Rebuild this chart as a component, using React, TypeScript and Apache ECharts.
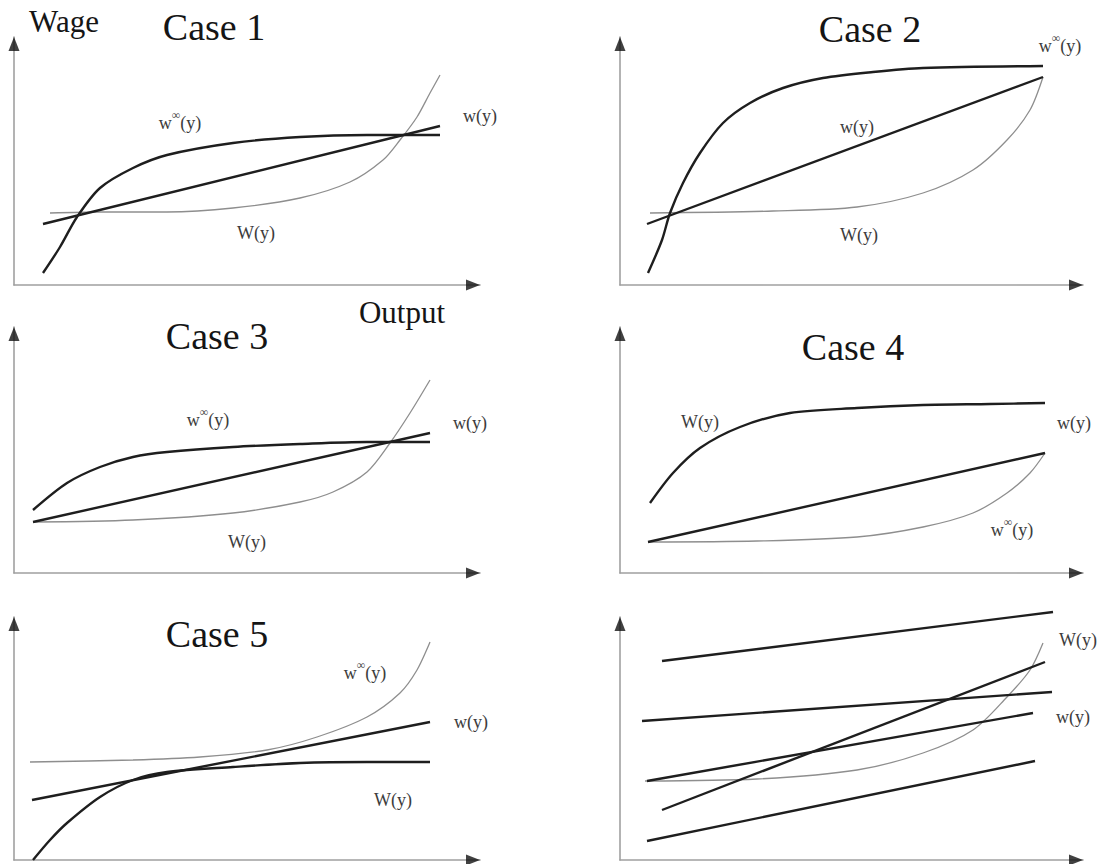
import React, { useEffect, useRef } from "react";
import * as echarts from "echarts";

// ---- Data (output units along each panel's x axis, wage units up its y axis) ----
// Case 1
const case1W = [[36, 72], [86, 73], [153, 73], [219, 77], [286, 87], [336, 103], [369, 125], [386, 145], [403, 168], [416, 192], [426, 210]];
const case1WInf = [[29, 12], [46, 38], [63, 68], [86, 97], [119, 117], [153, 130], [219, 142], [286, 148], [353, 150], [426, 150]];
const case1w = [[29, 61], [426, 159]];
// Case 2
const case2W = [[30, 72], [153, 74], [237, 78], [303, 92], [353, 115], [387, 145], [410, 175], [423, 208]];
const case2WInf = [[28, 12], [42, 45], [50, 72], [63, 102], [80, 132], [103, 162], [130, 182], [163, 197], [203, 207], [253, 213], [303, 217], [423, 219]];
const case2w = [[27, 61], [423, 208]];
// Case 3
const case3W = [[19, 51], [119, 53], [219, 60], [286, 71], [319, 81], [353, 101], [376, 130], [396, 160], [416, 193]];
const case3WInf = [[19, 63], [53, 90], [86, 106], [119, 116], [153, 121], [219, 126], [286, 129], [353, 131], [416, 131]];
const case3w = [[19, 51], [416, 140]];
// Case 4
const case4W = [[30, 70], [53, 100], [80, 125], [120, 146], [170, 160], [237, 165], [303, 168], [370, 169], [425, 170]];
const case4WInf = [[28, 31], [137, 32], [237, 36], [303, 46], [353, 60], [387, 80], [410, 100], [425, 120]];
const case4w = [[28, 31], [425, 120]];
// Case 5
const case5W = [[19, 0], [36, 20], [53, 37], [86, 63], [119, 80], [153, 88], [219, 93], [286, 97], [353, 98], [416, 98]];
const case5WInf = [[16, 98], [119, 100], [186, 103], [253, 110], [303, 123], [353, 143], [386, 167], [403, 190], [416, 218]];
const case5w = [[18, 60], [416, 138]];
// Case 6 (unlabelled panel)
const case6W = [[25, 79], [137, 81], [237, 90], [303, 107], [353, 130], [387, 163], [410, 190], [423, 217]];
const case6LineA = [[42, 199], [433, 248]];
const case6LineB = [[42, 50], [425, 198]];
const case6LineC = [[22, 139], [432, 168]];
const case6w = [[27, 79], [413, 147]];
const case6LineE = [[27, 19], [415, 99]];

// axis extents of each panel (output, wage)
const axisExtents = [[466, 248], [463, 248], [466, 246], [463, 246], [466, 243], [463, 243]];

const panelBoxes = [
  { left: 14, top: 37 },
  { left: 620, top: 37 },
  { left: 14, top: 327 },
  { left: 620, top: 327 },
  { left: 14, top: 617 },
  { left: 620, top: 617 },
];

const SERIF = "Liberation Serif, Times New Roman, serif";
const DARK = "#1e1e1e";
const GREY = "#8e8e8e";
const LABEL = "#3c3c3c";

function thick(name: string, panel: number, data: number[][], smooth: boolean) {
  return {
    name,
    type: "line",
    xAxisIndex: panel,
    yAxisIndex: panel,
    data,
    smooth: smooth ? 0.3 : false,
    showSymbol: false,
    clip: false,
    silent: true,
    lineStyle: { color: DARK, width: 2.4 },
  };
}

function thin(name: string, panel: number, data: number[][]) {
  return {
    name,
    type: "line",
    xAxisIndex: panel,
    yAxisIndex: panel,
    data,
    smooth: 0.3,
    showSymbol: false,
    clip: false,
    silent: true,
    lineStyle: { color: GREY, width: 1.3 },
  };
}

function arrows(panel: number) {
  const [xm, ym] = axisExtents[panel];
  return {
    type: "scatter",
    xAxisIndex: panel,
    yAxisIndex: panel,
    symbol: "triangle",
    symbolSize: [11, 14],
    clip: false,
    silent: true,
    itemStyle: { color: "#111" },
    data: [
      { value: [xm - 7, 0], symbolRotate: -90 },
      { value: [0, ym - 7], symbolRotate: 0 },
    ],
  };
}

function txt(text: string, x: number, y: number, size: number, color = "#2a2a2a") {
  return {
    type: "text",
    x,
    y,
    silent: true,
    style: {
      text,
      fill: color,
      fontSize: size,
      fontFamily: SERIF,
      textAlign: "center",
      align: "center",
      textVerticalAlign: "middle",
      verticalAlign: "middle",
    },
  };
}

function supLabel(x: number, y: number) {
  return {
    type: "text",
    x,
    y,
    silent: true,
    style: {
      text: "w{s|∞}(y)",
      fill: LABEL,
      fontSize: 18,
      fontFamily: SERIF,
      textAlign: "center",
      align: "center",
      textVerticalAlign: "middle",
      verticalAlign: "middle",
      lineHeight: 28,
      rich: {
        s: { fontSize: 12, fontFamily: SERIF, fill: LABEL, verticalAlign: "top", lineHeight: 12 },
      },
    },
  };
}

export default function App() {
  const ref = useRef<HTMLDivElement>(null);

  useEffect(() => {
    if (!ref.current) return;
    const chart = echarts.init(ref.current, undefined, { renderer: "svg" });

    const grid = panelBoxes.map((b, i) => ({
      left: b.left,
      top: b.top,
      width: axisExtents[i][0],
      height: axisExtents[i][1],
    }));

    const axisCommon = {
      type: "value",
      min: 0,
      axisLine: { show: true, lineStyle: { color: "#a0a0a0", width: 1.6 } },
      axisTick: { show: false },
      axisLabel: { show: false },
      splitLine: { show: false },
    };

    const xAxis = axisExtents.map((e, i) => ({ ...axisCommon, gridIndex: i, max: e[0] }));
    const yAxis = axisExtents.map((e, i) => ({ ...axisCommon, gridIndex: i, max: e[1] }));

    const series: any[] = [
      thin("W(y) case 1", 0, case1W),
      thick("w∞(y) case 1", 0, case1WInf, true),
      thick("w(y) case 1", 0, case1w, false),
      thin("W(y) case 2", 1, case2W),
      thick("w∞(y) case 2", 1, case2WInf, true),
      thick("w(y) case 2", 1, case2w, false),
      thin("W(y) case 3", 2, case3W),
      thick("w∞(y) case 3", 2, case3WInf, true),
      thick("w(y) case 3", 2, case3w, false),
      thick("W(y) case 4", 3, case4W, true),
      thin("w∞(y) case 4", 3, case4WInf),
      thick("w(y) case 4", 3, case4w, false),
      thick("W(y) case 5", 4, case5W, true),
      thin("w∞(y) case 5", 4, case5WInf),
      thick("w(y) case 5", 4, case5w, false),
      thin("W(y) case 6", 5, case6W),
      thick("line A case 6", 5, case6LineA, false),
      thick("line B case 6", 5, case6LineB, false),
      thick("line C case 6", 5, case6LineC, false),
      thick("w(y) case 6", 5, case6w, false),
      thick("line E case 6", 5, case6LineE, false),
    ];
    for (let i = 0; i < 6; i++) series.push(arrows(i));

    const graphic = [
      txt("Wage", 64, 21, 31, "#151515"),
      txt("Case 1", 214, 27, 38, "#151515"),
      txt("Case 2", 870, 29, 38, "#151515"),
      txt("Case 3", 217, 336, 38, "#151515"),
      txt("Case 4", 853, 347, 38, "#151515"),
      txt("Case 5", 217, 634, 38, "#151515"),
      txt("Output", 402, 312, 31, "#151515"),
      // Case 1 labels
      supLabel(180, 123),
      txt("w(y)", 480, 116, 18, LABEL),
      txt("W(y)", 256, 233, 18, LABEL),
      // Case 2 labels
      txt("w(y)", 857, 127, 18, LABEL),
      txt("W(y)", 859, 235, 18, LABEL),
      supLabel(1060, 46),
      // Case 3 labels
      supLabel(208, 420),
      txt("w(y)", 470, 423, 18, LABEL),
      txt("W(y)", 247, 542, 18, LABEL),
      // Case 4 labels
      txt("W(y)", 700, 422, 18, LABEL),
      txt("w(y)", 1074, 423, 18, LABEL),
      supLabel(1012, 530),
      // Case 5 labels
      supLabel(365, 673),
      txt("w(y)", 471, 722, 18, LABEL),
      txt("W(y)", 393, 800, 18, LABEL),
      // Case 6 labels
      txt("W(y)", 1078, 640, 18, LABEL),
      txt("w(y)", 1073, 717, 18, LABEL),
    ];

    chart.setOption({
      animation: false,
      backgroundColor: "#ffffff",
      grid,
      xAxis,
      yAxis,
      series,
      graphic,
    });

    return () => chart.dispose();
  }, []);

  return (
    <div
      ref={ref}
      style={{ position: "fixed", left: 0, top: 0, width: 1099, height: 864, background: "#fff" }}
    />
  );
}
